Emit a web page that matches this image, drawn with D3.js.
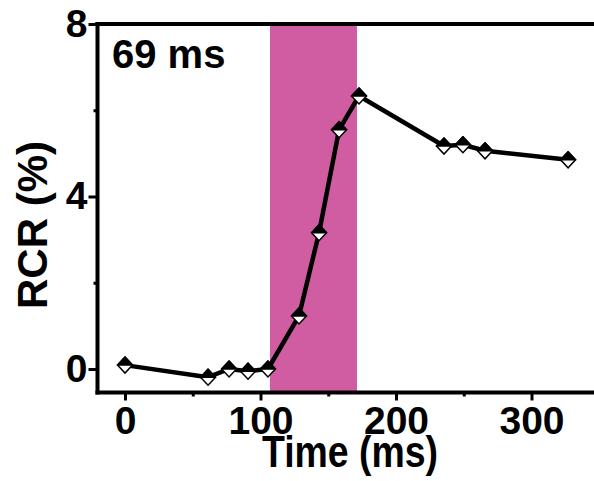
<!DOCTYPE html>
<html>
<head>
<meta charset="utf-8">
<script src="https://cdn.jsdelivr.net/npm/d3@7/dist/d3.min.js"></script>
<style>
  html, body { margin: 0; padding: 0; background: #fff; }
  svg { display: block; }
  text { font-family: "Liberation Sans", Arial, sans-serif; font-weight: bold; fill: #000; }
</style>
</head>
<body>
<svg id="chart" width="594" height="481"></svg>
<script>
// ---- data ----
const timeMs = [0, 61.3, 76.8, 90.8, 105.5, 128.4, 143.2, 158, 172.7, 235.4, 249.4, 265.7, 327];
const rcr    = [0.09, -0.19, 0.0, -0.05, 0.0, 1.23, 3.16, 5.55, 6.33, 5.17, 5.2, 5.06, 4.85];
const shadeRange = [107, 171.2];
const xTicks = [0, 100, 200, 300];
const xMinorTicks = [50, 150, 250];
const yTicks = [0, 4, 8];
const yMinorTicks = [2, 6];
const annotation = "69 ms";
const xLabel = "Time (ms)";
const yLabel = "RCR (%)";

// ---- layout ----
const svg = d3.select("#chart");
const axisLeftX = 97.5, axisBottomY = 392.5, topY = 24, rightX = 594;
const x = d3.scaleLinear().domain([0, 300]).range([125, 531.5]);
const y = d3.scaleLinear().domain([0, 8]).range([369, 24]);

// shading
svg.append("rect")
  .attr("x", x(shadeRange[0]))
  .attr("y", topY)
  .attr("width", x(shadeRange[1]) - x(shadeRange[0]))
  .attr("height", axisBottomY - topY)
  .attr("fill", "#D05CA1");

// top frame line
svg.append("line")
  .attr("x1", axisLeftX - 2).attr("x2", rightX)
  .attr("y1", topY).attr("y2", topY)
  .attr("stroke", "#000").attr("stroke-width", 4);

const tickFont = 39;

// x axis
const xAxisG = svg.append("g").attr("transform", `translate(0,${axisBottomY})`);
xAxisG.call(d3.axisBottom(x).tickValues(xTicks).tickSize(8).tickSizeOuter(0).tickPadding(5));
const xMinorG = svg.append("g").attr("transform", `translate(0,${axisBottomY})`);
xMinorG.call(d3.axisBottom(x).tickValues(xMinorTicks).tickSize(4).tickSizeOuter(0).tickFormat(""));
xMinorG.select(".domain").remove();
xAxisG.select(".domain")
  .attr("d", `M${axisLeftX - 2},0H${rightX}`)
  .attr("stroke-width", 4);
xAxisG.selectAll(".tick line").attr("stroke-width", 3);
xMinorG.selectAll(".tick line").attr("stroke-width", 3);
xAxisG.selectAll(".tick text")
  .attr("font-size", tickFont).attr("dy", null).attr("y", 41)
  .style("font-family", "'Liberation Sans', Arial, sans-serif").style("font-weight", "bold");

// y axis
const yAxisG = svg.append("g").attr("transform", `translate(${axisLeftX},0)`);
yAxisG.call(d3.axisLeft(y).tickValues(yTicks).tickSize(9).tickSizeOuter(0).tickPadding(3));
const yMinorG = svg.append("g").attr("transform", `translate(${axisLeftX},0)`);
yMinorG.call(d3.axisLeft(y).tickValues(yMinorTicks).tickSize(4).tickSizeOuter(0).tickFormat(""));
yMinorG.select(".domain").remove();
yAxisG.select(".domain")
  .attr("d", `M0,${topY - 2}V${axisBottomY + 2}`)
  .attr("stroke-width", 4);
yAxisG.selectAll(".tick line").attr("stroke-width", 3);
yMinorG.selectAll(".tick line").attr("stroke-width", 3);
yAxisG.selectAll(".tick text")
  .attr("font-size", tickFont).attr("dy", null).attr("y", 12).attr("x", -10)
  .style("font-family", "'Liberation Sans', Arial, sans-serif").style("font-weight", "bold");

// line
const line = d3.line().x((d, i) => x(timeMs[i])).y(d => y(d));
svg.append("path")
  .datum(rcr)
  .attr("d", line)
  .attr("fill", "none")
  .attr("stroke", "#000")
  .attr("stroke-width", 4.5)
  .attr("stroke-linejoin", "round");

// markers: half-filled diamonds
const hw = 7.5, hh = 8;
const markers = svg.append("g").selectAll("g").data(rcr).join("g")
  .attr("transform", (d, i) => `translate(${x(timeMs[i])},${y(d)})`);
markers.append("path")
  .attr("d", `M0,${-hh}L${hw},0L0,${hh}L${-hw},0Z`)
  .attr("fill", "#fff").attr("stroke", "#000").attr("stroke-width", 1.5);
markers.append("path")
  .attr("d", `M0,${-hh}L${hw},0L${-hw},0Z`)
  .attr("fill", "#000").attr("stroke", "#000").attr("stroke-width", 1.5).attr("stroke-linejoin", "round");

// annotation
svg.append("text")
  .attr("x", 112).attr("y", 68)
  .attr("font-size", 40)
  .text(annotation);

// axis titles
svg.append("text")
  .attr("x", 350).attr("y", 467)
  .attr("text-anchor", "middle")
  .attr("font-size", 44)
  .attr("textLength", 176)
  .attr("lengthAdjust", "spacingAndGlyphs")
  .text(xLabel);

svg.append("text")
  .attr("transform", "translate(47,225) rotate(-90)")
  .attr("text-anchor", "middle")
  .attr("font-size", 42)
  .text(yLabel);
</script>
</body>
</html>
